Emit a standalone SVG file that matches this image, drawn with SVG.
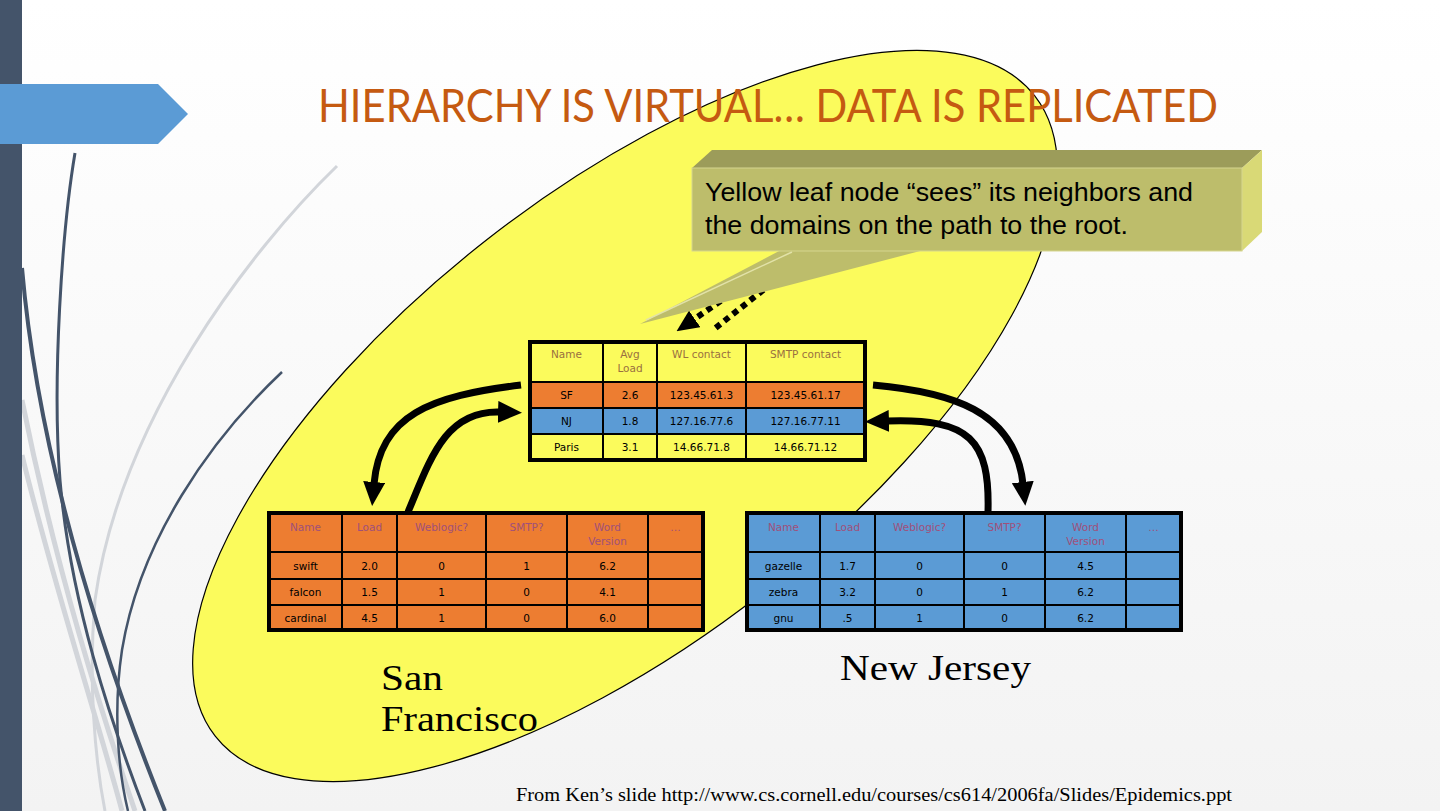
<svg xmlns="http://www.w3.org/2000/svg" width="1440" height="811" viewBox="0 0 1440 811">
<defs>
<linearGradient id="bg" x1="0" y1="0" x2="0" y2="1">
<stop offset="0" stop-color="#FFFFFF"/>
<stop offset="1" stop-color="#F3F3F3"/>
</linearGradient>
<marker id="ah" markerUnits="userSpaceOnUse" markerWidth="24" markerHeight="22" viewBox="0 0 24 22" refX="2" refY="11" orient="auto">
<path d="M0,0 L24,11 L0,22 z" fill="#000"/>
</marker>
<marker id="ahs" markerUnits="userSpaceOnUse" markerWidth="22" markerHeight="20" viewBox="0 0 22 20" refX="2" refY="10" orient="auto">
<path d="M0,0 L22,10 L0,20 z" fill="#000"/>
</marker>
</defs>
<style>
.hdr{font-family:"DejaVu Sans",sans-serif;font-size:10.5px;text-anchor:middle}
.cell{font-family:"DejaVu Sans",sans-serif;font-size:10.5px;text-anchor:middle;fill:#000}
.th1{fill:#9A7040}
.th2{fill:#A0507A}
.outer{fill:none;stroke:#000;stroke-width:4}
.grid{stroke:#000;stroke-width:2}
.conn{fill:none;stroke:#000;stroke-width:7}
.lbl{font-family:"Liberation Serif",serif;font-size:36px;fill:#000}
.deco-d{fill:none;stroke:#44546A}
.deco-l{fill:none;stroke:#D2D5DA}
</style>
<rect x="0" y="0" width="1440" height="811" fill="url(#bg)"/>
<g id="decoration">
<path class="deco-l" stroke-width="3" d="M337,166 C250,250 120,420 95,600 C88,680 95,760 105,811"/>
<path class="deco-l" stroke-width="5" d="M22,400 C50,540 90,680 135,811"/>
<path class="deco-l" stroke-width="5" d="M22,455 C55,590 95,710 122,811"/>
<path class="deco-d" stroke-width="2.5" d="M282,372 C210,440 140,540 122,650 C113,710 118,770 128,811"/>
<path class="deco-d" stroke-width="3" d="M75,153 C62,230 52,380 60,480 C70,600 110,720 145,811"/>
<path class="deco-d" stroke-width="4" d="M22,268 C35,420 80,600 165,811"/>
<rect x="0" y="0" width="22" height="811" fill="#44546A"/>
<polygon points="0,84 158,84 188,114 158,144 0,144" fill="#5B9BD5"/>
</g>
<g id="domain-ellipse">
<ellipse cx="625" cy="416" rx="520" ry="224" transform="rotate(-38 625 416)" fill="#FBFB5C" stroke="#000" stroke-width="1.2"/>
</g>
<g id="title">
<text x="318" y="122" font-family="Lato,'Liberation Sans',sans-serif" font-size="46" fill="#C55A11" textLength="900" lengthAdjust="spacingAndGlyphs">HIERARCHY IS VIRTUAL… DATA IS REPLICATED</text>
</g>
<g id="connectors">
<path class="conn" d="M521,385 C430,396 380,415 374,484" marker-end="url(#ah)"/>
<path class="conn" d="M408,512 C430,460 445,410 500,412" marker-end="url(#ah)"/>
<path class="conn" d="M873,385 C950,392 1015,410 1023,484" marker-end="url(#ah)"/>
<path class="conn" d="M988,512 C990,440 970,418 887,421" marker-end="url(#ah)"/>
<path fill="none" stroke="#000" stroke-width="6" stroke-dasharray="6 5" d="M748,282 L693,320" marker-end="url(#ahs)"/>
<path fill="none" stroke="#000" stroke-width="6" stroke-dasharray="6 5" d="M772,283 L713,330"/>
</g>
<g id="callout">
<polygon points="781,250 924,250 640,324" fill="#BDBD6B"/>
<polyline points="792,252 646,320" fill="none" stroke="#E2E2A8" stroke-width="1.5"/>
<polygon points="692,168 712,150 1262,150 1242,168" fill="#9C9C5A"/>
<polygon points="1242,168 1262,150 1262,232 1242,251" fill="#D9D976"/>
<rect x="692" y="168" width="550" height="83" fill="#BDBD6B" stroke="#D6D690" stroke-width="1"/>
<text font-family="'Liberation Sans',Arial,sans-serif" font-size="26" fill="#000">
<tspan x="705" y="201" textLength="488" lengthAdjust="spacingAndGlyphs">Yellow leaf node “sees” its neighbors and</tspan>
<tspan x="705" y="234" textLength="423" lengthAdjust="spacingAndGlyphs">the domains on the path to the root.</tspan>
</text>
</g>
<g id="root-table">
<rect x="530" y="342" width="335" height="40" fill="#FBFB5C"/>
<rect x="530" y="382" width="335" height="26" fill="#ED7D31"/>
<rect x="530" y="408" width="335" height="26" fill="#5B9BD5"/>
<rect x="530" y="434" width="335" height="26" fill="#FBFB5C"/>
<line class="grid" x1="530" y1="382" x2="865" y2="382"/>
<line class="grid" x1="530" y1="408" x2="865" y2="408"/>
<line class="grid" x1="530" y1="434" x2="865" y2="434"/>
<line class="grid" x1="603" y1="342" x2="603" y2="460"/>
<line class="grid" x1="657" y1="342" x2="657" y2="460"/>
<line class="grid" x1="746" y1="342" x2="746" y2="460"/>
<rect class="outer" x="530" y="342" width="335" height="118"/>
<text class="hdr th1" x="566.5" y="358">Name</text>
<text class="hdr th1" x="630" y="358">Avg</text>
<text class="hdr th1" x="630" y="372">Load</text>
<text class="hdr th1" x="701.5" y="358">WL contact</text>
<text class="hdr th1" x="805.5" y="358">SMTP contact</text>
<text class="cell" x="566.5" y="399">SF</text>
<text class="cell" x="630" y="399">2.6</text>
<text class="cell" x="701.5" y="399">123.45.61.3</text>
<text class="cell" x="805.5" y="399">123.45.61.17</text>
<text class="cell" x="566.5" y="425">NJ</text>
<text class="cell" x="630" y="425">1.8</text>
<text class="cell" x="701.5" y="425">127.16.77.6</text>
<text class="cell" x="805.5" y="425">127.16.77.11</text>
<text class="cell" x="566.5" y="451">Paris</text>
<text class="cell" x="630" y="451">3.1</text>
<text class="cell" x="701.5" y="451">14.66.71.8</text>
<text class="cell" x="805.5" y="451">14.66.71.12</text>
</g>
<g id="sf-table">
<rect x="269" y="513" width="434" height="117" fill="#ED7D31"/>
<line class="grid" x1="269" y1="552" x2="703" y2="552"/>
<line class="grid" x1="269" y1="579" x2="703" y2="579"/>
<line class="grid" x1="269" y1="605" x2="703" y2="605"/>
<line class="grid" x1="342" y1="513" x2="342" y2="630"/>
<line class="grid" x1="397" y1="513" x2="397" y2="630"/>
<line class="grid" x1="486" y1="513" x2="486" y2="630"/>
<line class="grid" x1="567" y1="513" x2="567" y2="630"/>
<line class="grid" x1="648" y1="513" x2="648" y2="630"/>
<rect class="outer" x="269" y="513" width="434" height="117"/>
<text class="hdr th2" x="305.5" y="531">Name</text>
<text class="hdr th2" x="369.5" y="531">Load</text>
<text class="hdr th2" x="441.5" y="531">Weblogic?</text>
<text class="hdr th2" x="526.5" y="531">SMTP?</text>
<text class="hdr th2" x="607.5" y="531">Word</text>
<text class="hdr th2" x="607.5" y="545">Version</text>
<text class="hdr th2" x="675.5" y="531">…</text>
<text class="cell" x="305.5" y="569.5">swift</text>
<text class="cell" x="369.5" y="569.5">2.0</text>
<text class="cell" x="441.5" y="569.5">0</text>
<text class="cell" x="526.5" y="569.5">1</text>
<text class="cell" x="607.5" y="569.5">6.2</text>
<text class="cell" x="305.5" y="596">falcon</text>
<text class="cell" x="369.5" y="596">1.5</text>
<text class="cell" x="441.5" y="596">1</text>
<text class="cell" x="526.5" y="596">0</text>
<text class="cell" x="607.5" y="596">4.1</text>
<text class="cell" x="305.5" y="621.5">cardinal</text>
<text class="cell" x="369.5" y="621.5">4.5</text>
<text class="cell" x="441.5" y="621.5">1</text>
<text class="cell" x="526.5" y="621.5">0</text>
<text class="cell" x="607.5" y="621.5">6.0</text>
</g>
<g id="nj-table">
<rect x="747" y="513" width="434" height="117" fill="#5B9BD5"/>
<line class="grid" x1="747" y1="552" x2="1181" y2="552"/>
<line class="grid" x1="747" y1="579" x2="1181" y2="579"/>
<line class="grid" x1="747" y1="605" x2="1181" y2="605"/>
<line class="grid" x1="820" y1="513" x2="820" y2="630"/>
<line class="grid" x1="875" y1="513" x2="875" y2="630"/>
<line class="grid" x1="964" y1="513" x2="964" y2="630"/>
<line class="grid" x1="1045" y1="513" x2="1045" y2="630"/>
<line class="grid" x1="1126" y1="513" x2="1126" y2="630"/>
<rect class="outer" x="747" y="513" width="434" height="117"/>
<text class="hdr th2" x="783.5" y="531">Name</text>
<text class="hdr th2" x="847.5" y="531">Load</text>
<text class="hdr th2" x="919.5" y="531">Weblogic?</text>
<text class="hdr th2" x="1004.5" y="531">SMTP?</text>
<text class="hdr th2" x="1085.5" y="531">Word</text>
<text class="hdr th2" x="1085.5" y="545">Version</text>
<text class="hdr th2" x="1153.5" y="531">…</text>
<text class="cell" x="783.5" y="569.5">gazelle</text>
<text class="cell" x="847.5" y="569.5">1.7</text>
<text class="cell" x="919.5" y="569.5">0</text>
<text class="cell" x="1004.5" y="569.5">0</text>
<text class="cell" x="1085.5" y="569.5">4.5</text>
<text class="cell" x="783.5" y="596">zebra</text>
<text class="cell" x="847.5" y="596">3.2</text>
<text class="cell" x="919.5" y="596">0</text>
<text class="cell" x="1004.5" y="596">1</text>
<text class="cell" x="1085.5" y="596">6.2</text>
<text class="cell" x="783.5" y="621.5">gnu</text>
<text class="cell" x="847.5" y="621.5">.5</text>
<text class="cell" x="919.5" y="621.5">1</text>
<text class="cell" x="1004.5" y="621.5">0</text>
<text class="cell" x="1085.5" y="621.5">6.2</text>
</g>
<g id="label-sf">
<text class="lbl" x="381" y="690" textLength="62" lengthAdjust="spacingAndGlyphs">San</text>
<text class="lbl" x="381" y="731" textLength="157" lengthAdjust="spacingAndGlyphs">Francisco</text>
</g>
<g id="label-nj">
<text class="lbl" x="840" y="680" textLength="191" lengthAdjust="spacingAndGlyphs">New Jersey</text>
</g>
<g id="footer">
<text x="516" y="801" font-family="'Liberation Serif',serif" font-size="18" fill="#000" textLength="716" lengthAdjust="spacingAndGlyphs">From Ken’s slide http://www.cs.cornell.edu/courses/cs614/2006fa/Slides/Epidemics.ppt</text>
</g>
</svg>
